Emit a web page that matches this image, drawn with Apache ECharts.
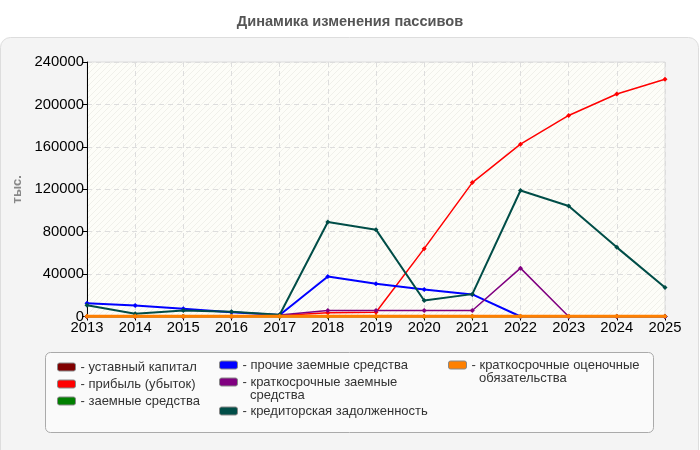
<!DOCTYPE html>
<html><head><meta charset="utf-8">
<script src="https://cdn.jsdelivr.net/npm/echarts@6/dist/echarts.min.js"></script>
<style>html,body{margin:0;padding:0;background:#fff}#c{width:700px;height:450px}</style>
</head><body><div id="c"></div>
<script>
var years = ['2013','2014','2015','2016','2017','2018','2019','2020','2021','2022','2023','2024','2025'];
var yTicks = [0, 40000, 80000, 120000, 160000, 200000, 240000];
var ustavnyKapital = [10,10,10,10,10,10,10,10,10,10,10,10,10];
var pribyl = [0,0,0,0,1000,3500,4000,64000,126300,162500,189600,209800,223700];
var zaemnye = [0,0,0,0,0,0,0,0,0,0,0,0,0];
var prochieZaemnye = [12600,10400,7300,4000,1500,37800,30900,25500,20800,0,0,0,0];
var kratkZaemnye = [0,0,0,0,1500,5700,5700,5700,5700,45600,0,0,0];
var kreditor = [10700,2600,5700,4400,1600,89100,81900,15100,21100,118800,104200,65200,27400];
var ocenochnye = [300,300,300,300,300,300,300,300,300,300,300,300,300];

var names = ['уставный капитал','прибыль (убыток)','заемные средства','прочие заемные средства','краткосрочные заемные средства','кредиторская задолженность','краткосрочные оценочные обязательства'];
var firstLines = ['уставный капитал','прибыль (убыток)','заемные средства','прочие заемные средства','краткосрочные заемные','кредиторская задолженность','краткосрочные оценочные'];
var secondLines = ['','','','','средства','','обязательства'];
var colors = ['#800000','#ff0000','#008000','#0000ff','#800080','#004d47','#ff8000'];
var widths = [2,1.5,2,2,1.5,2,3];
var datas = [ustavnyKapital,pribyl,zaemnye,prochieZaemnye,kratkZaemnye,kreditor,ocenochnye];

// legend item placement: icon left x, row centre y
var legLeft = [57,57,57,219,219,219,448];
var legY = [367,384,401,365,382,411,365];

var FONT = 'Liberation Sans, Arial, sans-serif';

// hatch pattern for plot background
var pc = document.createElement('canvas'); pc.width = 6; pc.height = 6;
var px = pc.getContext('2d');
px.fillStyle = '#fdfdf8'; px.fillRect(0,0,6,6);
px.strokeStyle = '#f0f0ea'; px.lineWidth = 1;
px.beginPath(); px.moveTo(0,6); px.lineTo(6,0); px.moveTo(-3,3); px.lineTo(3,-3); px.moveTo(3,9); px.lineTo(9,3); px.stroke();

var series = names.map(function(n,i){
  return {name:n, type:'line', data:datas[i], symbol:'diamond', symbolSize:5,
    lineStyle:{color:colors[i], width:widths[i]}, itemStyle:{color:colors[i]}, z: 2+i, animation:false};
});

var legends = names.map(function(n,i){
  return {orient:'vertical', left:legLeft[i], top:legY[i]-7, padding:0, data:[n], icon:'roundRect',
    itemWidth:18, itemHeight:8, selectedMode:false, itemStyle:{borderColor:'#888', borderWidth:1},
    textStyle:{fontFamily:FONT, fontSize:13, color:'#333', lineHeight:14},
    formatter:function(){ return '- ' + firstLines[i]; }};
});

var graphics = [
  {type:'rect', shape:{x:0.5,y:37.5,width:698,height:440,r:10}, style:{fill:'#f4f4f4', stroke:'#dddddd', lineWidth:1}, z:-10, silent:true},
  {type:'rect', shape:{x:45.5,y:352.5,width:608,height:80,r:5}, style:{fill:'#fafafa', stroke:'#aaaaaa', lineWidth:1}, z:-5, silent:true}
];
secondLines.forEach(function(t,i){
  if(!t) return;
  graphics.push({type:'text', left:legLeft[i]+31, top:legY[i]+7, silent:true,
    style:{text:t, fill:'#333', font:'13px ' + FONT}});
});

var chart = echarts.init(document.getElementById('c'), null, {renderer:'canvas'});
chart.setOption({
  backgroundColor:'#fff',
  animation:false,
  title:{text:'Динамика изменения пассивов', left:'center', top:9,
    textStyle:{fontFamily:FONT, fontSize:14.6, fontWeight:'bold', color:'#555'}},
  graphic:graphics,
  grid:{left:87, right:35, top:62, bottom:133.5, containLabel:false, outerBoundsMode:'none',
    show:true, backgroundColor:{image:pc, repeat:'repeat'}, borderColor:'#dddddd', borderWidth:1},
  xAxis:{type:'category', data:years, boundaryGap:false,
    axisLine:{lineStyle:{color:'#000', width:1}}, axisTick:{show:true, alignWithLabel:true, length:4, lineStyle:{color:'#000'}},
    axisLabel:{color:'#000', fontSize:14.8, fontFamily:FONT, margin:4},
    splitLine:{show:true, lineStyle:{color:'#dddddd', type:[5,4]}}},
  yAxis:{type:'value', min:yTicks[0], max:yTicks[yTicks.length-1], interval:40000,
    name:'тыс.', nameLocation:'middle', nameGap:61, nameRotate:90,
    nameTextStyle:{color:'#888', fontWeight:'bold', fontSize:13, fontFamily:FONT},
    axisLine:{show:true, lineStyle:{color:'#000', width:1}}, axisTick:{show:true, length:5, lineStyle:{color:'#000'}},
    axisLabel:{color:'#000', fontSize:14.8, fontFamily:FONT, margin:3, formatter:function(v){return String(v);}},
    splitLine:{show:true, lineStyle:{color:'#dddddd', type:[5,4]}}},
  legend:legends,
  series:series
});
</script></body></html>
